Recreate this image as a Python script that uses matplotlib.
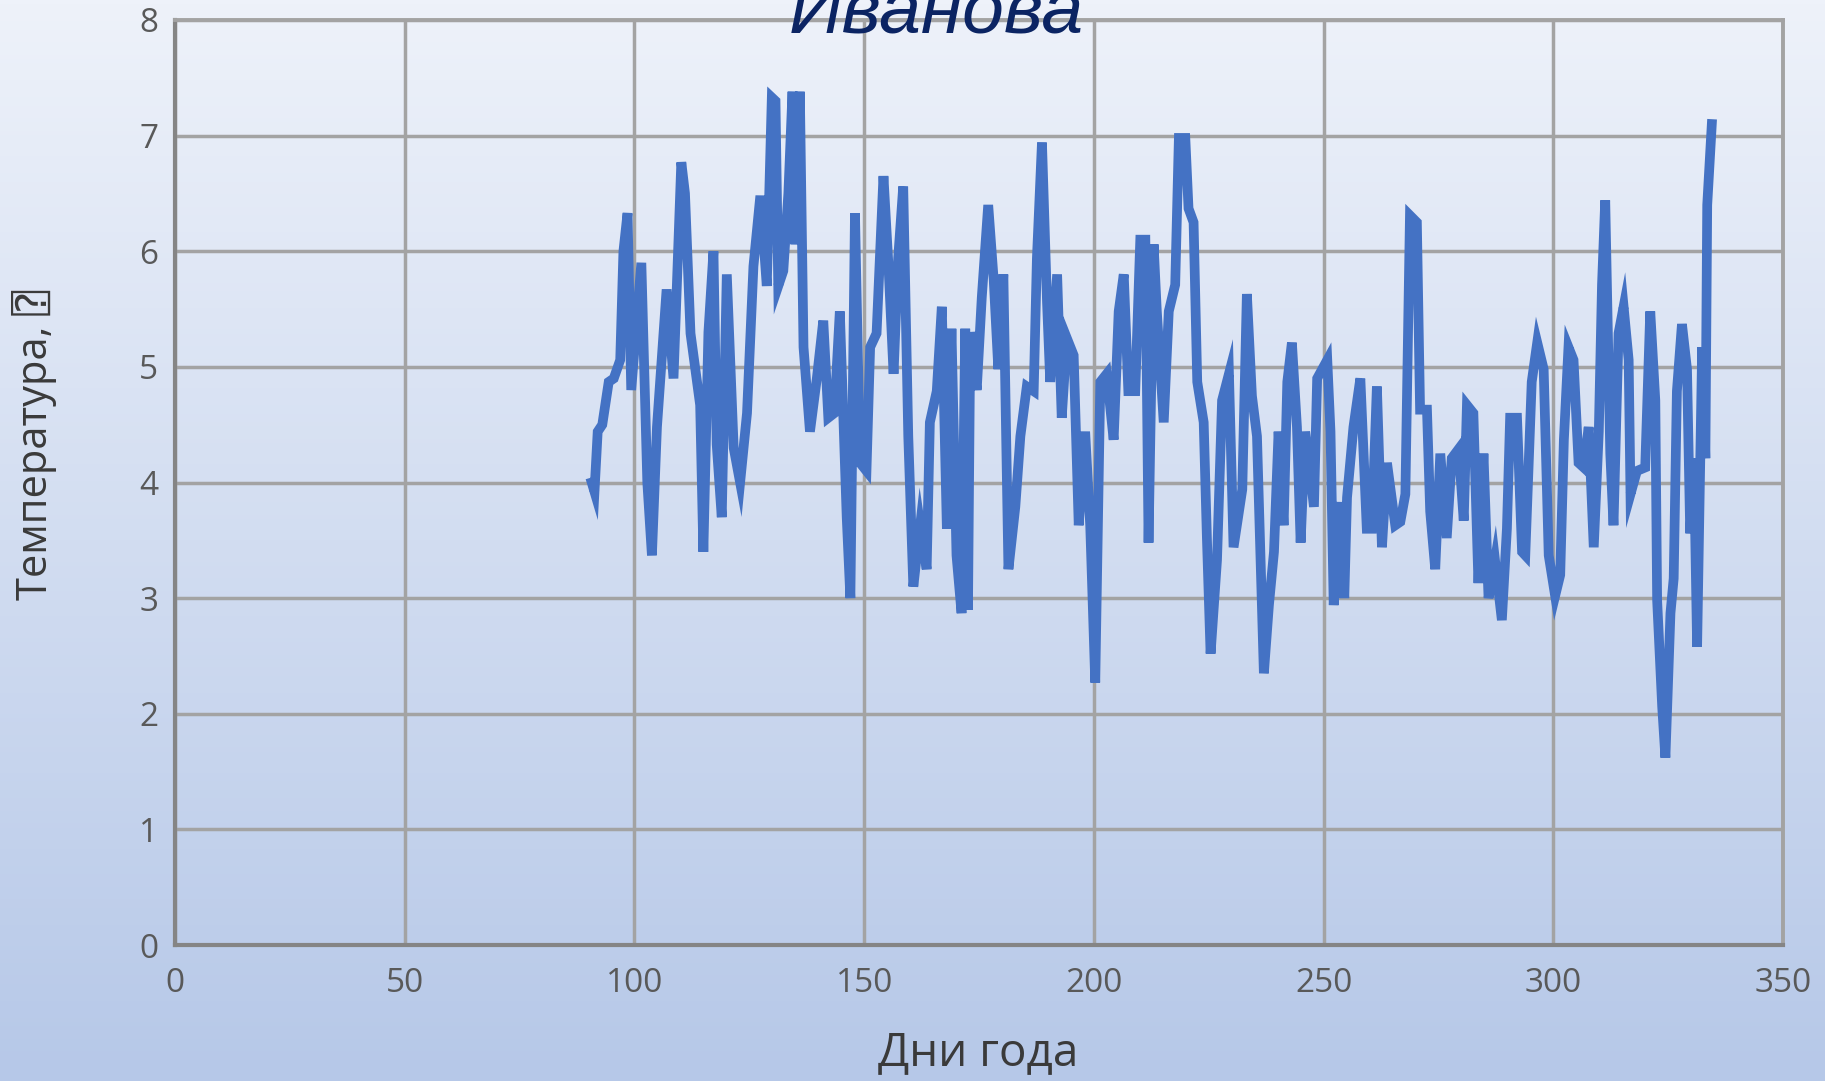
import numpy as np
import matplotlib.pyplot as plt

# Temperature readings (day of year, value)
days = [90.7, 91.3, 92.0, 93.0, 94.4, 95.5, 96.9, 97.6, 98.5, 99.3,
        101.5, 102.8, 103.8, 104.9, 107.0, 108.5, 110.2, 111.0, 112.2, 114.3,
        115.0, 116.1, 117.2, 117.9, 119.0, 120.1, 121.6, 123.0, 124.5, 125.9,
        127.4, 128.8, 129.9, 130.7, 131.3, 132.4, 133.5, 134.4, 135.0, 136.0,
        136.8, 138.2, 139.7, 141.1, 142.2, 143.5, 144.7, 146.2, 147.0, 148.0,
        149.1, 150.5, 151.3, 152.7, 154.2, 155.3, 156.4, 157.4, 158.5, 159.6,
        160.7, 162.2, 163.6, 164.3, 165.8, 166.9, 168.0, 169.0, 170.1, 171.2,
        172.0, 172.6, 173.1, 174.5, 175.6, 177.0, 178.2, 179.2, 180.3, 181.4,
        182.9, 184.0, 185.4, 186.9, 187.6, 188.7, 189.8, 190.5, 192.0, 193.0,
        194.1, 195.6, 196.7, 198.1, 199.2, 200.3, 201.4, 202.8, 204.3, 205.4,
        206.5, 207.5, 209.0, 210.1, 211.2, 211.9, 213.0, 213.7, 215.2, 216.3,
        217.7, 218.5, 219.9, 220.6, 221.7, 222.5, 223.9, 224.6, 225.4, 226.8,
        227.9, 229.4, 230.4, 232.3, 233.3, 234.4, 235.5, 237.0, 238.1, 239.2,
        240.2, 241.3, 242.1, 243.1, 244.2, 245.0, 246.0, 247.9, 248.6, 250.8,
        251.5, 252.2, 253.7, 254.5, 255.1, 256.5, 258.0, 259.4, 260.5, 261.6,
        262.7, 263.8, 265.6, 266.7, 267.8, 268.8, 270.3, 271.0, 272.5, 273.2,
        274.3, 275.4, 276.8, 277.9, 279.4, 280.5, 281.2, 282.6, 283.7, 284.8,
        285.9, 287.3, 288.8, 289.9, 290.6, 292.1, 293.2, 293.9, 295.3, 296.5,
        297.9, 299.0, 300.4, 301.5, 302.3, 303.3, 304.4, 305.5, 306.6, 307.7,
        308.8, 309.9, 310.6, 311.3, 312.4, 313.1, 314.2, 315.3, 316.4, 316.8,
        318.2, 320.0, 321.1, 322.2, 322.6, 323.7, 324.4, 325.5, 326.2, 326.9,
        328.0, 329.1, 329.8, 330.6, 331.3, 332.4, 333.1, 333.5, 334.5]
temps = [4.00, 3.92, 4.44, 4.50, 4.87, 4.90, 5.06, 6.00, 6.33, 4.80,
         5.90, 4.00, 3.37, 4.48, 5.67, 4.90, 6.77, 6.50, 5.29, 4.67,
         3.40, 5.30, 6.00, 4.33, 3.70, 5.80, 4.30, 4.00, 4.60, 5.87,
         6.48, 5.70, 7.33, 7.30, 5.70, 5.83, 6.50, 7.38, 6.06, 7.38,
         5.17, 4.44, 4.90, 5.40, 4.56, 4.60, 5.48, 3.70, 3.00, 6.33,
         4.17, 4.10, 5.17, 5.29, 6.65, 5.87, 4.94, 5.94, 6.56, 4.40,
         3.10, 3.63, 3.25, 4.52, 4.79, 5.52, 3.60, 5.33, 3.37, 2.87,
         5.33, 2.90, 5.30, 4.80, 5.60, 6.40, 5.75, 4.98, 5.80, 3.25,
         3.79, 4.40, 4.83, 4.79, 5.94, 6.94, 5.56, 4.87, 5.80, 4.56,
         5.25, 5.10, 3.63, 4.44, 3.63, 2.27, 4.87, 4.94, 4.37, 5.48,
         5.80, 4.79, 4.79, 6.10, 6.10, 3.48, 6.06, 5.48, 4.52, 5.48,
         5.71, 6.98, 6.98, 6.37, 6.25, 4.87, 4.52, 3.52, 2.52, 3.33,
         4.71, 4.94, 3.44, 3.94, 5.63, 4.75, 4.40, 2.35, 2.94, 3.40,
         4.44, 3.63, 4.87, 5.21, 4.48, 3.48, 4.44, 3.79, 4.90, 5.06,
         4.44, 2.94, 3.83, 3.00, 3.87, 4.48, 4.90, 3.60, 3.60, 4.83,
         3.44, 4.17, 3.63, 3.66, 3.90, 6.31, 6.25, 4.63, 4.63, 3.75,
         3.25, 4.25, 3.52, 4.21, 4.29, 3.67, 4.67, 4.60, 3.13, 4.25,
         3.00, 3.33, 2.81, 3.60, 4.56, 4.56, 3.40, 3.37, 4.87, 5.21,
         4.98, 3.37, 3.02, 3.20, 4.37, 5.17, 5.06, 4.17, 4.13, 4.48,
         3.44, 4.44, 5.71, 6.44, 4.25, 3.63, 5.29, 5.52, 5.06, 3.90,
         4.10, 4.13, 5.48, 4.71, 2.98, 2.06, 1.62, 2.87, 3.17, 4.79,
         5.37, 4.98, 3.56, 4.21, 2.58, 5.17, 4.21, 6.40, 7.10]

x_ticks = [0, 50, 100, 150, 200, 250, 300, 350]
y_ticks = [0, 1, 2, 3, 4, 5, 6, 7, 8]

fig = plt.figure(figsize=(18.25, 10.81), dpi=100)

# background gradient (light at top, bluer at bottom)
bg = fig.add_axes([0, 0, 1, 1], zorder=-10)
top = np.array([238, 242, 250]) / 255
bottom = np.array([182, 200, 232]) / 255
t = np.linspace(0, 1, 256)[:, None]
grad = top * (1 - t) + bottom * t
bg.imshow(grad[:, None, :], aspect='auto', extent=[0, 1, 0, 1])
bg.axis('off')

ax = fig.add_axes([0.0959, 0.1258, 0.8811, 0.8557])
ax.set_facecolor('none')
ax.plot(days, temps, color='#4472C4', lw=7, solid_joinstyle='miter', zorder=3)

ax.set_xlim(0, 350)
ax.set_ylim(0, 8)
ax.set_xticks(x_ticks)
ax.set_yticks(y_ticks)
ax.grid(True, color='#A3A3A3', lw=2.5, zorder=0)
ax.set_axisbelow(True)
for side in ['top', 'right']:
    ax.spines[side].set_color('#A3A3A3')
    ax.spines[side].set_linewidth(2.8)
for side in ['left', 'bottom']:
    ax.spines[side].set_color('#858585')
    ax.spines[side].set_linewidth(3)

ax.tick_params(length=0, labelsize=24, labelcolor='#595959')
ax.tick_params(axis='x', pad=16)
ax.tick_params(axis='y', pad=12)
for lab in ax.get_xticklabels() + ax.get_yticklabels():
    lab.set_family(['Open Sans', 'DejaVu Sans'])

fig.text(0.536, 0.026, 'Дни года', ha='center', va='center', fontsize=33,
         color='#3A3A3A', family=['Open Sans', 'DejaVu Sans'])
fig.text(0.019, 0.588, 'Температура, \u2370', ha='center', va='center', fontsize=30,
         color='#3A3A3A', rotation=90,
         family=['Open Sans', 'DejaVu Sans Mono', 'DejaVu Sans'])

# title, cut off by the top edge in the reference
fig.text(0.513, 0.97, 'Иванова', ha='center', va='baseline', fontsize=54,
         style='italic', color='#0B2463',
         family=['Liberation Sans Narrow', 'Liberation Sans', 'DejaVu Sans'])

fig.savefig('out.png', dpi=100)
